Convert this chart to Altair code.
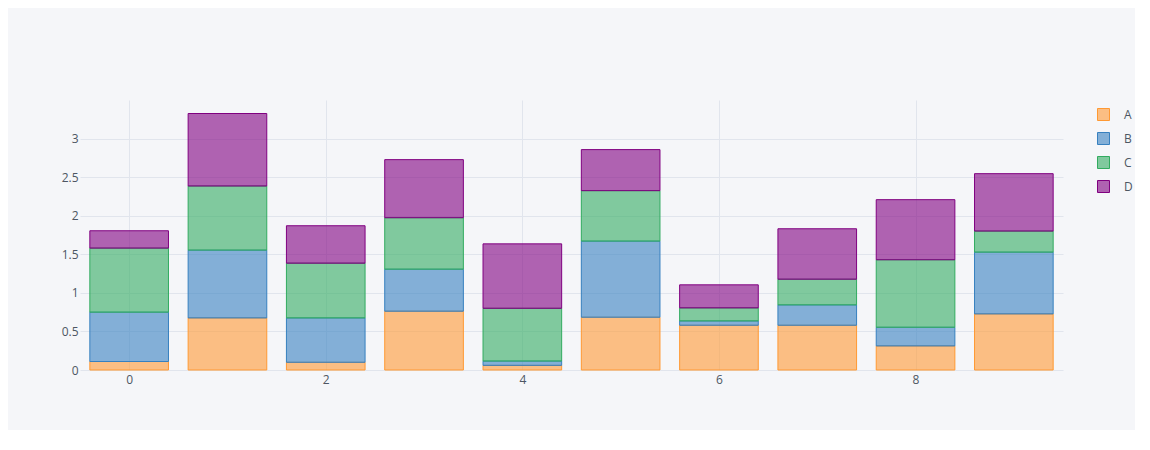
import altair as alt
import pandas as pd

xs = list(range(10))
series_names = ["A", "B", "C", "D"]
a_vals = [0.11, 0.675, 0.10, 0.762, 0.06, 0.684, 0.58, 0.58, 0.312, 0.727]
b_vals = [0.64, 0.879, 0.575, 0.545, 0.056, 0.987, 0.056, 0.264, 0.242, 0.801]
c_vals = [0.83, 0.831, 0.71, 0.667, 0.684, 0.654, 0.169, 0.333, 0.875, 0.273]
d_vals = [0.225, 0.94, 0.485, 0.753, 0.835, 0.532, 0.299, 0.654, 0.779, 0.744]
line_colors = ["rgb(255,153,51)", "rgb(55,128,191)", "rgb(50,171,96)", "rgb(128,0,128)"]
fill_colors = ["rgba(255,153,51,0.6)", "rgba(55,128,191,0.6)", "rgba(50,171,96,0.6)", "rgba(128,0,128,0.6)"]

rows = []
for k, (name, vals) in enumerate(zip(series_names, [a_vals, b_vals, c_vals, d_vals])):
    for x, v in zip(xs, vals):
        rows.append({"x": x, "series": name, "value": v, "ord": k})
df = pd.DataFrame(rows)

font = "Open Sans"
text_color = "#4D5663"
grid_color = "#E1E5ED"

legend_cfg = dict(
    title=None, orient="none", legendX=1017, legendY=8,
    symbolType="square", symbolSize=144, rowPadding=7,
    labelOffset=14, padding=0, symbolStrokeWidth=1,
)

chart = alt.Chart(df).transform_stack(
    stack="value", groupby=["x"], as_=["v0", "v1"],
    sort=[alt.SortField("ord", order="ascending")],
).transform_calculate(
    x0="datum.x - 0.4", x1="datum.x + 0.4"
).mark_bar(fillOpacity=1, strokeWidth=1, strokeOpacity=1).encode(
    x=alt.X("x0:Q", scale=alt.Scale(domain=[-0.5, 9.5], nice=False, zero=False),
            axis=alt.Axis(values=[0, 2, 4, 6, 8], title=None, domain=False, ticks=False,
                          labelPadding=4, grid=True, format="d")),
    x2="x1:Q",
    y=alt.Y("v0:Q", scale=alt.Scale(domain=[0, 3.5], nice=False),
            axis=alt.Axis(values=[0, 0.5, 1, 1.5, 2, 2.5, 3], title=None, domain=False,
                          ticks=False, labelPadding=2, format=".1~f")),
    y2="v1:Q",
    fill=alt.Fill("series:N", scale=alt.Scale(domain=series_names, range=fill_colors),
                  legend=alt.Legend(**legend_cfg)),
    stroke=alt.Stroke("series:N", scale=alt.Scale(domain=series_names, range=line_colors),
                      legend=alt.Legend(**legend_cfg)),
).properties(
    width=983, height=270,
    autosize=alt.AutoSizeParams(type="none"),
    padding={"left": 72, "top": 92, "right": 72, "bottom": 60},
    background="#F5F6F9",
).configure_view(stroke=None, fill="#F5F6F9").configure_axis(
    labelFont=font, labelFontSize=12, labelColor=text_color,
    gridColor=grid_color, gridWidth=1,
).configure_legend(
    labelFont=font, labelFontSize=12, labelColor=text_color,
)

chart.save("out.html", embed_options={"renderer": "svg", "actions": False})
